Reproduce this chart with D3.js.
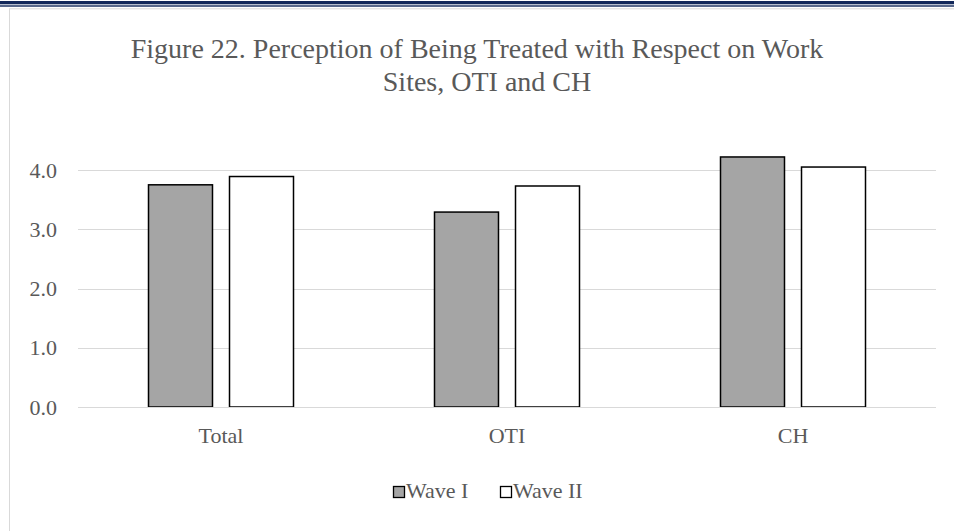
<!DOCTYPE html>
<html>
<head>
<meta charset="utf-8">
<script src="https://cdn.jsdelivr.net/npm/d3@7"></script>
<style>
  html, body { margin: 0; padding: 0; background: #fff; }
  svg { display: block; }
  text { font-family: "Liberation Serif", "Times New Roman", serif; fill: #595959; }
</style>
</head>
<body>
<svg id="chart" width="954" height="531"></svg>
<script>
const categories = ["Total", "OTI", "CH"];
const seriesNames = ["Wave I", "Wave II"];
const waveI = [3.75, 3.29, 4.22];
const waveII = [3.89, 3.73, 4.05];
const yTicks = [0, 1, 2, 3, 4];
const titleLines = ["Figure 22. Perception of Being Treated with Respect on Work", "Sites, OTI and CH"];
const fills = ["#a5a5a5", "#ffffff"];

const svg = d3.select("#chart");
const W = 954, H = 531;

// top decorative double rule
svg.append("rect").attr("x", 0).attr("y", 1).attr("width", W).attr("height", 3.3).attr("fill", "#12285a");
svg.append("rect").attr("x", 0).attr("y", 5.3).attr("width", W).attr("height", 1.4).attr("fill", "#12285a");

// chart area border
svg.append("rect").attr("x", 9.5).attr("y", 8.8).attr("width", W + 10).attr("height", H + 10)
  .attr("fill", "none").attr("stroke", "#d9d9d9").attr("stroke-width", 1);

// title
const title = svg.append("text").attr("text-anchor", "middle").style("font-size", "28px");
titleLines.forEach((t, i) => {
  title.append("tspan").attr("x", i === 0 ? 477 : 487).attr("y", 58 + i * 33).text(t);
});

const x0 = d3.scaleBand().domain(categories).range([78, 936]).paddingInner(0).paddingOuter(0);
const groupW = 145;
const x1 = d3.scaleBand().domain(seriesNames)
  .range([x0.bandwidth() / 2 - groupW / 2, x0.bandwidth() / 2 + groupW / 2])
  .paddingInner(0.21).paddingOuter(0);
const y = d3.scaleLinear().domain([0, 4]).range([407, 170]);

// gridlines
svg.append("g").selectAll("line").data(yTicks).join("line")
  .attr("x1", 78).attr("x2", 936)
  .attr("y1", d => Math.round(y(d)) + 0.5).attr("y2", d => Math.round(y(d)) + 0.5)
  .attr("stroke", "#d9d9d9").attr("stroke-width", 1);

// y labels
svg.append("g").selectAll("text").data(yTicks).join("text")
  .attr("x", 57).attr("y", d => y(d)).attr("dy", "0.35em")
  .attr("text-anchor", "end").style("font-size", "22px")
  .text(d => d3.format(".1f")(d));

// bars
const data = categories.map((c, i) => ({ cat: c, vals: [waveI[i], waveII[i]] }));
const groups = svg.append("g").selectAll("g").data(data).join("g")
  .attr("transform", d => `translate(${x0(d.cat)},0)`);
groups.selectAll("rect").data(d => d.vals.map((v, j) => ({ s: seriesNames[j], v, j })))
  .join("rect")
  .attr("x", d => x1(d.s))
  .attr("y", d => y(d.v))
  .attr("width", x1.bandwidth())
  .attr("height", d => y(0) - y(d.v))
  .attr("fill", d => fills[d.j])
  .attr("stroke", "#000").attr("stroke-width", 1.5);

// baseline over bars
svg.append("line").attr("x1", 78).attr("x2", 936)
  .attr("y1", Math.round(y(0)) + 0.5).attr("y2", Math.round(y(0)) + 0.5)
  .attr("stroke", "#d9d9d9").attr("stroke-width", 1.2);

// category labels
svg.append("g").selectAll("text").data(categories).join("text")
  .attr("x", d => x0(d) + x0.bandwidth() / 2).attr("y", 443)
  .attr("text-anchor", "middle").style("font-size", "22px").text(d => d);

// legend
const legendItems = [{ name: seriesNames[0], x: 393, fill: fills[0] }, { name: seriesNames[1], x: 500, fill: fills[1] }];
const lg = svg.append("g").selectAll("g").data(legendItems).join("g")
  .attr("transform", d => `translate(${d.x},0)`);
lg.append("rect").attr("x", 0.5).attr("y", 486.5).attr("width", 11).attr("height", 11)
  .attr("fill", d => d.fill).attr("stroke", "#000").attr("stroke-width", 1.3);
lg.append("text").attr("x", 13).attr("y", 498).style("font-size", "22px").text(d => d.name);
</script>
</body>
</html>
